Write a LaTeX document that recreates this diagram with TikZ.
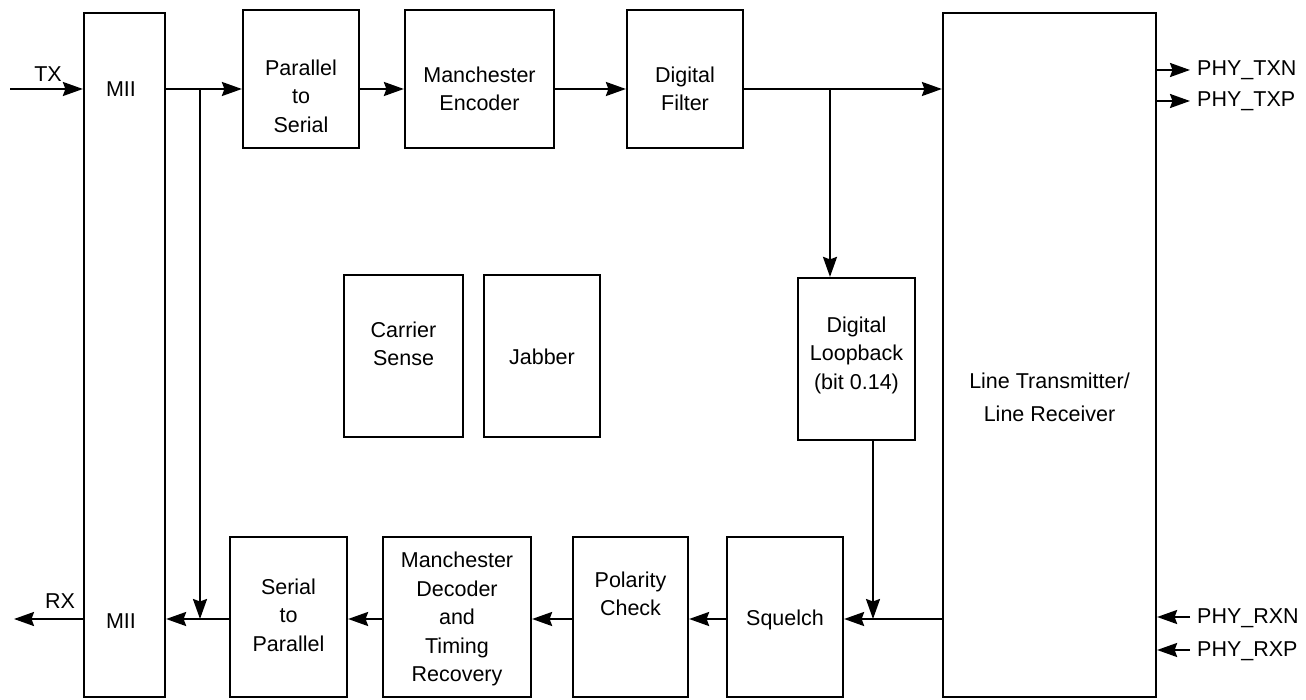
\documentclass[tikz,border=0pt]{standalone}
\usepackage{fontspec}
\setmainfont{Liberation Sans}
\usetikzlibrary{arrows.meta}
\tikzset{
  box/.style={draw, line width=2.2pt, inner sep=0pt},
  lbl/.style={align=center, inner sep=0pt, font=\fontsize{21.5}{28.5}\selectfont},
  conn/.style={line width=2.2pt},
  arr/.style={line width=2.2pt, -{Stealth[length=20pt,width=14pt,inset=2.5pt]}},
}
\begin{document}
\begin{tikzpicture}[x=1pt,y=-1pt]
\useasboundingbox (0,0) rectangle (1306,700);
% boxes
\node[box, minimum width=81pt, minimum height=684pt] (mii) at (124.5,355) {};
\node[box, minimum width=213pt, minimum height=684pt] (lt) at (1049.5,355) {};
\node[box, minimum width=116pt, minimum height=138pt] (p2s) at (301,79) {};
\node[box, minimum width=149pt, minimum height=138pt] (me) at (479.5,79) {};
\node[box, minimum width=116pt, minimum height=138pt] (df) at (685,79) {};
\node[box, minimum width=119pt, minimum height=162pt] (cs) at (403.5,356) {};
\node[box, minimum width=116pt, minimum height=162pt] (jab) at (542,356) {};
\node[box, minimum width=117pt, minimum height=162pt] (dl) at (856.5,359) {};
\node[box, minimum width=116pt, minimum height=160pt] (sq) at (785,617) {};
\node[box, minimum width=115pt, minimum height=160pt] (pc) at (630.5,617) {};
\node[box, minimum width=148pt, minimum height=160pt] (md) at (457,617) {};
\node[box, minimum width=117pt, minimum height=160pt] (s2p) at (288.5,617) {};
% labels in boxes
\node[lbl] (mii-t1) at (121,89) {MII};
\node[lbl] (mii-t2) at (121,621) {MII};
\node[lbl] (p2s-t) at (301,96) {Parallel\\to\\Serial};
\node[lbl] (me-t) at (479.5,89) {Manchester\\Encoder};
\node[lbl] (df-t) at (685,89) {Digital\\Filter};
\node[lbl] (cs-t) at (403.5,344) {Carrier\\Sense};
\node[lbl] (jab-t) at (542,357) {Jabber};
\node[lbl] (dl-t) at (856.5,355) {Digital\\Loopback\\(bit 0.14)};
\node[lbl, font=\fontsize{21.5}{33}\selectfont] (lt-t) at (1049.5,397) {Line Transmitter/\\Line Receiver};
\node[lbl] (sq-t) at (785,620) {Squelch};
\node[lbl] (pc-t) at (630.5,594) {Polarity\\Check};
\node[lbl] (md-t) at (457,619) {Manchester\\Decoder\\and\\Timing\\Recovery};
\node[lbl] (s2p-t) at (288.5,615) {Serial\\to\\Parallel};
% outside labels
\node[lbl] (tx-l) at (48,74) {TX};
\node[lbl] (rx-l) at (60,601) {RX};
\node[lbl, anchor=west] (txn-l) at (1197,70) {PHY\_TXN};
\node[lbl, anchor=west] (txp-l) at (1197,101) {PHY\_TXP};
\node[lbl, anchor=west] (rxn-l) at (1197,618) {PHY\_RXN};
\node[lbl, anchor=west] (rxp-l) at (1197,651) {PHY\_RXP};
% coordinates
\coordinate (txs) at (10,89);
\coordinate (rxe) at (14,619);
\coordinate (jt) at (200,89);
\coordinate (jb) at (200,619);
\coordinate (jl) at (830,89);
\coordinate (jq) at (873,619);
\coordinate (txn) at (1190,70);
\coordinate (txp) at (1190,101);
\coordinate (rxn) at (1190,617);
\coordinate (rxp) at (1190,650);
% transmit path
\draw[arr] (txs) -- (txs -| mii.west);
\draw[conn] (jt -| mii.east) -- (jt);
\draw[arr] (jt) -- (jt -| p2s.west);
\draw[arr] (jt) -- (jb);
\draw[arr] (jt -| p2s.east) -- (jt -| me.west);
\draw[arr] (jt -| me.east) -- (jt -| df.west);
\draw[arr] (jt -| df.east) -- (jt -| lt.west);
\draw[arr] (jl) -- (jl |- dl.north);
\draw[arr] (jq |- dl.south) -- (jq);
% receive path
\draw[arr] (jq -| lt.west) -- (jq -| sq.east);
\draw[arr] (jq -| sq.west) -- (jq -| pc.east);
\draw[arr] (jq -| pc.west) -- (jq -| md.east);
\draw[arr] (jq -| md.west) -- (jq -| s2p.east);
\draw[arr] (jq -| s2p.west) -- (jq -| mii.east);
\draw[arr] (jq -| mii.west) -- (rxe);
% PHY pins
\draw[arr] (txn -| lt.east) -- (txn);
\draw[arr] (txp -| lt.east) -- (txp);
\draw[arr] (rxn) -- (rxn -| lt.east);
\draw[arr] (rxp) -- (rxp -| lt.east);
\end{tikzpicture}
\end{document}
